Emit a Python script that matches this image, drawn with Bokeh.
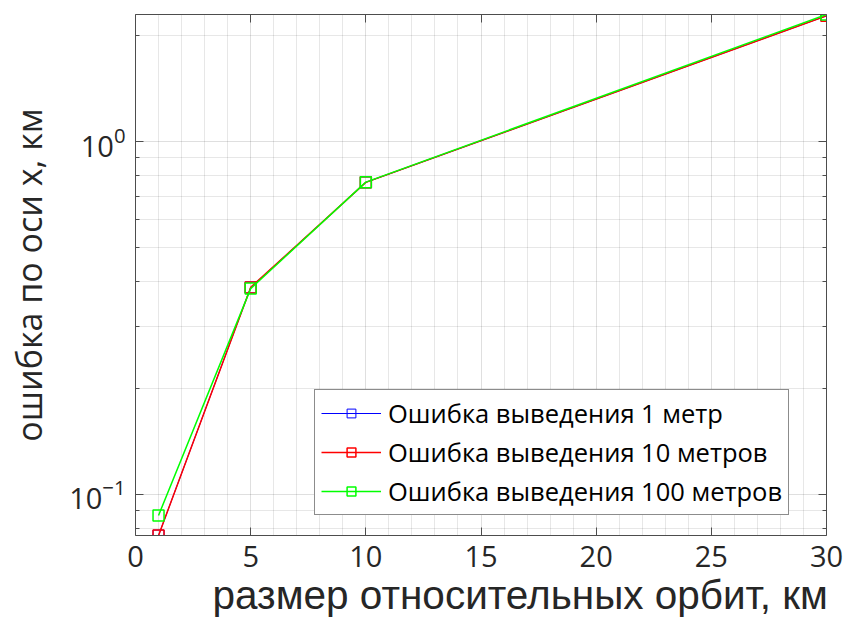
from bokeh.plotting import figure
from bokeh.models import (Range1d, FixedTicker, LinearAxis, Legend,
                          LegendItem, Title)
from bokeh.embed import file_html
from bokeh.resources import INLINE

# ---- data ----
orbit_size_km = [1, 5, 10, 30]
err_1m = [0.0765, 0.386, 0.766, 2.27]
err_10m = [0.0765, 0.386, 0.766, 2.27]
err_100m = [0.0872, 0.383, 0.767, 2.29]

series_labels = ["Ошибка выведения 1 метр",
                 "Ошибка выведения 10 метров",
                 "Ошибка выведения 100 метров"]
series_colors = ["#0000ff", "#ff0000", "#00ff00"]
series_widths = [1, 1.5, 1.5]

x_major_ticks = [0, 5, 10, 15, 20, 25, 30]
x_minor_ticks = [v for v in range(0, 31) if v % 5 != 0]
y_major_ticks = [0.1, 1]
y_minor_ticks = [0.08, 0.09, 0.2, 0.3, 0.4, 0.5, 0.6, 0.7, 0.8, 0.9, 2]

x_label = "размер относительных орбит, км"
y_label = "ошибка по оси x, км"

FONT = "Open Sans"
AX = "#262626"

p = figure(width=843, height=626, y_axis_type="log",
           x_range=Range1d(0, 30), y_range=Range1d(0.0765, 2.29),
           output_backend="svg", toolbar_location=None,
           min_border_left=135, min_border_right=17,
           min_border_top=14, min_border_bottom=91)
p.outline_line_color = None
p.background_fill_color = "white"
p.border_fill_color = "white"

xt = FixedTicker(ticks=x_major_ticks, minor_ticks=x_minor_ticks)
yt = FixedTicker(ticks=y_major_ticks, minor_ticks=y_minor_ticks)

def style_axis(ax, labels=True, minor=True):
    ax.axis_line_color = "#4d4d4d"
    ax.axis_line_width = 1
    ax.major_tick_line_color = "#4d4d4d"
    ax.major_tick_in = 8
    ax.major_tick_out = 0
    if minor:
        ax.minor_tick_line_color = "#4d4d4d"
        ax.minor_tick_in = 4
        ax.minor_tick_out = 0
    else:
        ax.minor_tick_line_color = None
    ax.major_label_text_font = FONT
    if labels:
        ax.major_label_text_color = AX
        ax.major_label_text_font_size = "29px"
    else:
        ax.major_label_text_color = None
        ax.major_label_text_font_size = "1px"
        ax.major_label_standoff = 0

bx = p.xaxis[0]
bx.ticker = xt
style_axis(bx, True, False)
bx.major_label_standoff = 6

ly = p.yaxis[0]
ly.ticker = yt
style_axis(ly, True, True)
ly.major_label_standoff = 10
ly.axis_label = y_label
ly.axis_label_text_font = FONT
ly.axis_label_text_font_size = "34px"
ly.axis_label_text_font_style = "normal"
ly.axis_label_text_color = AX
ly.axis_label_standoff = 14

top = LinearAxis(ticker=xt)
style_axis(top, False, False)
p.add_layout(top, "above")

right = LinearAxis(ticker=yt)
style_axis(right, False, True)
p.add_layout(right, "right")

p.xgrid.ticker = xt
p.ygrid.ticker = yt
for g in (p.xgrid[0], p.ygrid[0]):
    g.grid_line_color = AX
    g.grid_line_alpha = 0.15
    g.minor_grid_line_color = AX
    g.minor_grid_line_alpha = 0.22
    g.minor_grid_line_dash = "1 1"

# x-axis title (shifted right like the reference)
p.add_layout(Title(text=x_label, align="left", offset=77,
                   text_font="Liberation Sans", text_font_size="40.5px",
                   text_font_style="normal", text_color=AX, standoff=0),
             "below")

items = []
for ys, lab, col, lw in zip([err_1m, err_10m, err_100m], series_labels,
                            series_colors, series_widths):
    lr = p.line(orbit_size_km, ys, line_color=col, line_width=lw)
    sr = p.scatter(orbit_size_km, ys, marker="square", size=11,
                   line_color=col, line_width=lw, fill_color=None)
    items.append(LegendItem(label=lab, renderers=[lr, sr]))

legend = Legend(items=items, location=(179, 20),
                border_line_color="#1a1a1a", border_line_width=1,
                background_fill_color="white", background_fill_alpha=1,
                label_text_font=FONT, label_text_font_size="25.5px",
                label_text_color="black",
                glyph_width=60, glyph_height=22, label_height=22,
                spacing=5, padding=6, margin=0, label_standoff=7)
p.add_layout(legend, "center")

open("out.html", "w").write(file_html(p, INLINE))
